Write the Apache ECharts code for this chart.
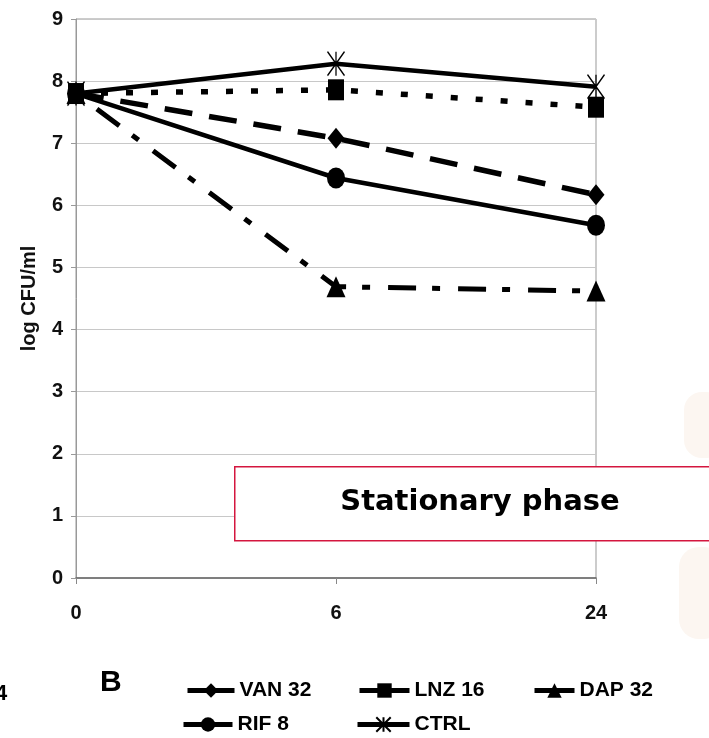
<!DOCTYPE html>
<html><head><meta charset="utf-8">
<script src="https://cdn.jsdelivr.net/npm/echarts@6/dist/echarts.min.js"></script>
<style>html,body{margin:0;padding:0;background:#fff}#c{width:709px;height:738px}</style>
</head><body><div id="c"></div>
<script>
const categories = ['0', '6', '24'];
const van32 = [7.8, 7.08, 6.17];
const lnz16 = [7.8, 7.86, 7.58];
const dap32 = [7.8, 4.69, 4.62];
const rif8  = [7.8, 6.44, 5.68];
const ctrl  = [7.8, 8.28, 7.91];
const yTicks = {min: 0, max: 9, interval: 1};

const FONT = '"Liberation Sans", Arial, sans-serif';
const starPath = 'path://M0,0L20,26M20,0L0,26M10,0L10,26';

const chart = echarts.init(document.getElementById('c'));
function mk(name, data, symbol, size, lw, dash, extra) {
  return Object.assign({
    name, type: 'line', data, symbol, symbolSize: size,
    lineStyle: {color: '#000', width: lw, type: dash},
    itemStyle: {color: '#000'},
    z: 3, animation: false
  }, extra || {});
}
function lg(name, left, top, w) {
  return {
    data: [name], left, top, itemWidth: w, itemHeight: 18, orient: 'horizontal', padding: 0,
    lineStyle: {type: 'solid', width: 5, color: '#000'},
    textStyle: {fontFamily: FONT, fontWeight: 'bold', fontSize: 21, color: '#000'},
    selectedMode: false
  };
}
chart.setOption({
  animation: false,
  grid: {left: 76, right: 113, top: 19, bottom: 160, show: true, borderColor: '#999', borderWidth: 1},
  xAxis: {
    type: 'category', data: categories, boundaryGap: false,
    axisLine: {lineStyle: {color: '#666', width: 1.5}},
    axisTick: {show: true, length: 6, lineStyle: {color: '#888'}},
    axisLabel: {margin: 25, fontFamily: FONT, fontWeight: 'bold', fontSize: 20, color: '#111'},
    splitLine: {show: false}
  },
  yAxis: {
    type: 'value', min: yTicks.min, max: yTicks.max, interval: yTicks.interval,
    name: 'log CFU/ml', nameLocation: 'middle', nameGap: 37, nameRotate: 90,
    nameTextStyle: {fontFamily: FONT, fontWeight: 'bold', fontSize: 20, color: '#111'},
    axisLine: {show: true, lineStyle: {color: '#999'}},
    axisTick: {show: true, length: 5, lineStyle: {color: '#999'}},
    axisLabel: {margin: 13, fontFamily: FONT, fontWeight: 'bold', fontSize: 20, color: '#111'},
    splitLine: {lineStyle: {color: '#c8c8c8', width: 1.2}}
  },
  legend: [
    lg('VAN 32', 185, 680, 47),
    lg('LNZ 16', 357, 680, 50),
    lg('DAP 32', 532, 680, 40),
    lg('RIF 8', 181, 714, 49),
    lg('CTRL', 355, 714, 52)
  ],
  series: [
    mk('VAN 32', van32, 'diamond', [17, 21], 5.5, [28, 17]),
    mk('LNZ 16', lnz16, 'rect', [16, 21], 5.5, [7, 18]),
    mk('DAP 32', dap32, 'triangle', [19, 21], 5, [8, 18, 28, 16]),
    mk('RIF 8', rif8, 'circle', [18, 21], 4.5, 'solid'),
    mk('CTRL', ctrl, starPath, [17, 24], 4.5, 'solid', {itemStyle: {color: 'rgba(0,0,0,0)', borderColor: '#000', borderWidth: 1.5}})
  ],
  graphic: [
    {type: 'rect', left: 684, top: 392, shape: {width: 40, height: 66, r: 18}, style: {fill: '#fcf6f1'}, z: 0},
    {type: 'rect', left: 679, top: 547, shape: {width: 45, height: 92, r: 20}, style: {fill: '#fcf6f1'}, z: 0},
    {type: 'rect', left: 234, top: 466, shape: {width: 490, height: 74}, style: {fill: '#fff', stroke: '#d4163f', lineWidth: 1.5}, z: 10},
    {type: 'text', x: 480, y: 502, style: {text: 'Stationary phase', font: 'bold 29px "DejaVu Sans", sans-serif', fill: '#000', align: 'center', verticalAlign: 'middle'}, z: 11},
    {type: 'text', x: 100, y: 683, style: {text: 'B', font: 'bold 30px "Liberation Sans", Arial, sans-serif', fill: '#000', verticalAlign: 'middle'}},
    {type: 'text', x: -5, y: 694, style: {text: '4', font: 'bold 22px ' + FONT, fill: '#000', verticalAlign: 'middle'}}
  ]
});
</script></body></html>
